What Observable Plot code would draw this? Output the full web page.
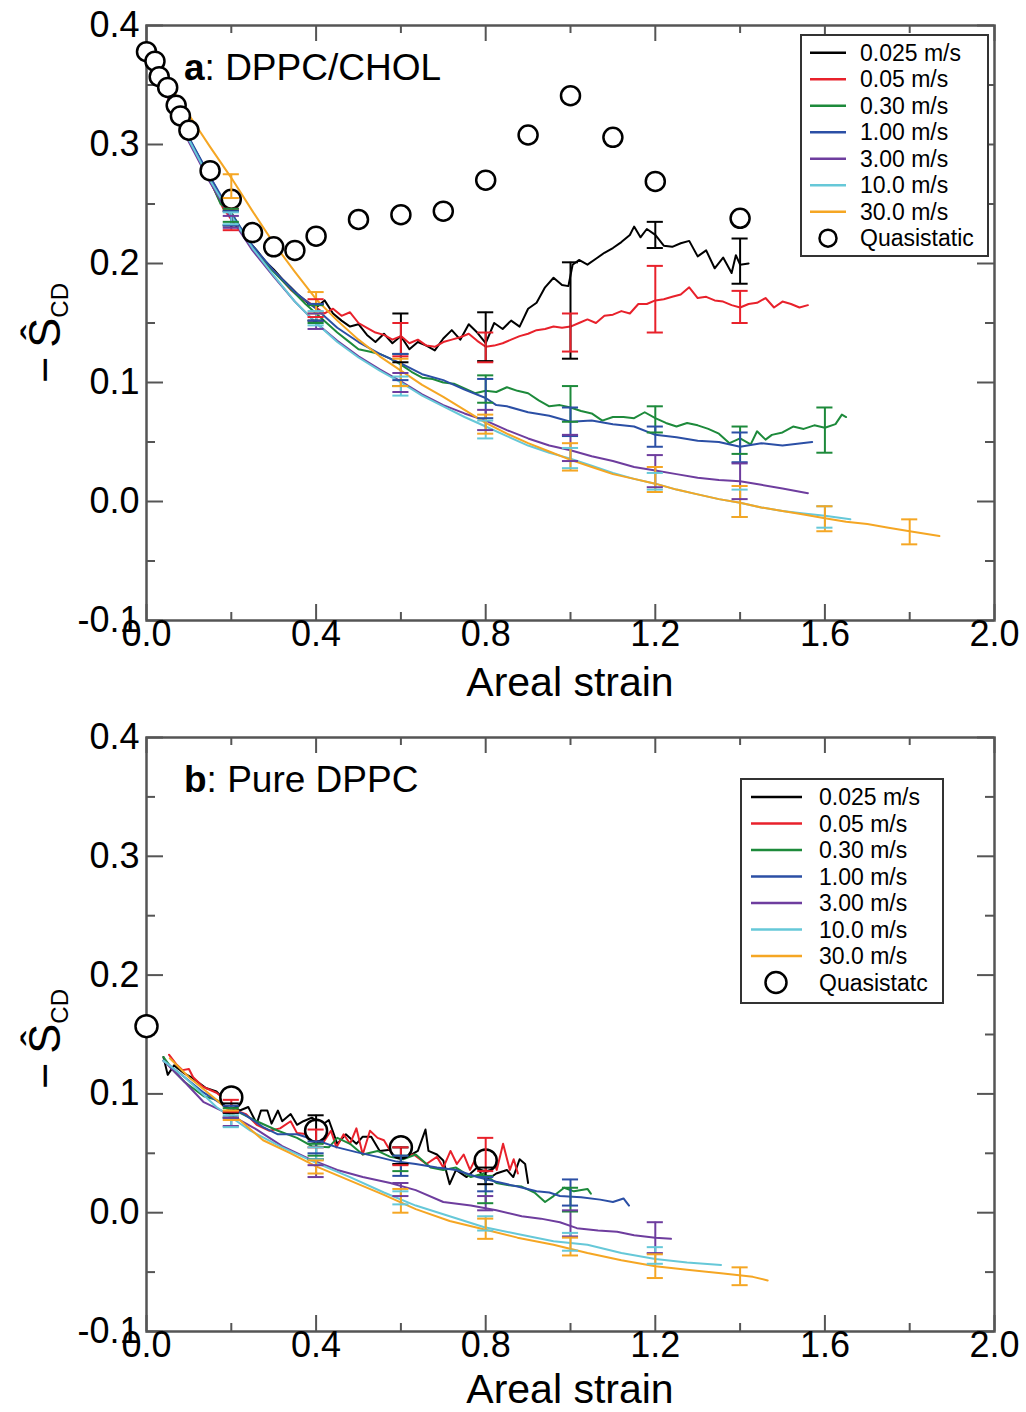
<!DOCTYPE html>
<html>
<head>
<meta charset="utf-8">
<script src="https://cdn.jsdelivr.net/npm/d3@7"></script>
<script src="https://cdn.jsdelivr.net/npm/@observablehq/plot@0.6"></script>
<style>
  html, body { margin: 0; padding: 0; background: #fff; }
  svg { display: block; }
  .panel { position: relative; width: 1026px; }
</style>
</head>
<body>
<div id="panelA" class="panel"></div>
<div id="panelB" class="panel"></div>
<script>
// ---------------- data ----------------
const speeds = ["0.025 m/s", "0.05 m/s", "0.30 m/s", "1.00 m/s", "3.00 m/s", "10.0 m/s", "30.0 m/s"];
const colors = ["#000000", "#e8212b", "#1d8a3b", "#2b4fa5", "#6e3d9e", "#66c8d8", "#f5a623"];
const xTicks = [0, 0.4, 0.8, 1.2, 1.6, 2.0];
const xTickLabels = ["0.0", "0.4", "0.8", "1.2", "1.6", "2.0"];
const xMinor = [0.2, 0.6, 1.0, 1.4, 1.8];
const yTicks = [-0.1, 0, 0.1, 0.2, 0.3, 0.4];
const yTickLabels = ["-0.1", "0.0", "0.1", "0.2", "0.3", "0.4"];
const yMinor = [-0.05, 0.05, 0.15, 0.25, 0.35];

// Panel a: DPPC/CHOL
const aBlack = [[0,0.372],[0.02,0.362],[0.04,0.350],[0.06,0.333],[0.08,0.318],[0.1,0.305],[0.12,0.292],[0.14,0.279],[0.16,0.266],[0.18,0.252],[0.2,0.240],[0.22,0.229],[0.24,0.219],[0.26,0.211],[0.28,0.202],[0.3,0.195],[0.32,0.187],[0.34,0.180],[0.36,0.173],[0.38,0.167],[0.4,0.163],[0.42,0.169],[0.44,0.158],[0.46,0.152],[0.48,0.147],[0.5,0.149],[0.52,0.140],[0.54,0.134],[0.56,0.141],[0.58,0.133],[0.6,0.139],[0.62,0.128],[0.64,0.134],[0.66,0.131],[0.68,0.127],[0.7,0.137],[0.72,0.144],[0.74,0.136],[0.76,0.149],[0.78,0.142],[0.8,0.133],[0.82,0.150],[0.84,0.145],[0.86,0.152],[0.88,0.147],[0.9,0.162],[0.92,0.167],[0.94,0.180],[0.96,0.188],[0.98,0.182],[0.995,0.181],[1.005,0.199],[1.02,0.203],[1.04,0.199],[1.06,0.204],[1.08,0.209],[1.1,0.213],[1.12,0.218],[1.14,0.224],[1.15,0.231],[1.165,0.222],[1.18,0.229],[1.2,0.224],[1.22,0.215],[1.24,0.214],[1.26,0.217],[1.28,0.219],[1.3,0.206],[1.32,0.211],[1.34,0.196],[1.36,0.205],[1.38,0.192],[1.39,0.207],[1.4,0.199],[1.42,0.200]];
const aRed = [[0,0.372],[0.02,0.361],[0.04,0.348],[0.06,0.331],[0.08,0.317],[0.1,0.303],[0.12,0.290],[0.14,0.277],[0.16,0.262],[0.18,0.247],[0.2,0.237],[0.22,0.228],[0.24,0.218],[0.26,0.209],[0.28,0.200],[0.3,0.194],[0.32,0.186],[0.34,0.178],[0.36,0.172],[0.38,0.168],[0.4,0.163],[0.42,0.158],[0.44,0.162],[0.46,0.156],[0.48,0.159],[0.5,0.150],[0.52,0.146],[0.54,0.142],[0.56,0.140],[0.58,0.136],[0.6,0.139],[0.62,0.133],[0.64,0.136],[0.66,0.131],[0.68,0.130],[0.7,0.134],[0.72,0.136],[0.74,0.138],[0.76,0.141],[0.78,0.135],[0.8,0.130],[0.82,0.131],[0.84,0.133],[0.86,0.136],[0.88,0.139],[0.9,0.141],[0.92,0.144],[0.94,0.145],[0.96,0.147],[0.98,0.146],[1.0,0.147],[1.02,0.150],[1.04,0.153],[1.06,0.150],[1.08,0.156],[1.1,0.157],[1.12,0.160],[1.14,0.158],[1.16,0.166],[1.18,0.166],[1.2,0.169],[1.22,0.170],[1.24,0.172],[1.26,0.174],[1.28,0.180],[1.3,0.171],[1.32,0.172],[1.34,0.169],[1.36,0.168],[1.38,0.165],[1.4,0.163],[1.42,0.166],[1.44,0.167],[1.46,0.171],[1.48,0.163],[1.5,0.168],[1.52,0.166],[1.54,0.163],[1.56,0.165]];
const aGreen = [[0,0.370],[0.025,0.357],[0.05,0.341],[0.075,0.322],[0.1,0.304],[0.125,0.288],[0.15,0.270],[0.175,0.250],[0.2,0.243],[0.225,0.228],[0.25,0.213],[0.275,0.202],[0.3,0.193],[0.325,0.184],[0.35,0.175],[0.375,0.166],[0.4,0.158],[0.425,0.150],[0.45,0.142],[0.475,0.135],[0.5,0.128],[0.525,0.126],[0.55,0.124],[0.575,0.120],[0.6,0.115],[0.625,0.109],[0.65,0.104],[0.675,0.103],[0.7,0.100],[0.725,0.099],[0.75,0.095],[0.775,0.091],[0.8,0.093],[0.825,0.092],[0.85,0.096],[0.875,0.093],[0.9,0.091],[0.925,0.085],[0.95,0.080],[0.975,0.081],[1.0,0.079],[1.025,0.076],[1.05,0.074],[1.075,0.068],[1.1,0.071],[1.125,0.071],[1.15,0.070],[1.175,0.075],[1.2,0.070],[1.225,0.066],[1.25,0.063],[1.275,0.066],[1.3,0.064],[1.325,0.061],[1.35,0.057],[1.375,0.049],[1.4,0.053],[1.425,0.048],[1.44,0.059],[1.46,0.052],[1.475,0.056],[1.5,0.058],[1.525,0.063],[1.55,0.061],[1.575,0.064],[1.6,0.062],[1.625,0.065],[1.64,0.073],[1.65,0.071]];
const aBlue = [[0,0.372],[0.05,0.343],[0.1,0.306],[0.15,0.273],[0.2,0.242],[0.25,0.215],[0.3,0.194],[0.35,0.176],[0.4,0.162],[0.45,0.146],[0.5,0.134],[0.55,0.124],[0.6,0.116],[0.65,0.107],[0.7,0.102],[0.75,0.094],[0.8,0.087],[0.825,0.081],[0.85,0.080],[0.9,0.075],[0.95,0.072],[1.0,0.067],[1.05,0.068],[1.1,0.065],[1.15,0.063],[1.2,0.056],[1.25,0.054],[1.3,0.051],[1.35,0.050],[1.4,0.046],[1.45,0.049],[1.5,0.047],[1.57,0.050]];
const aPurple = [[0,0.370],[0.05,0.340],[0.1,0.302],[0.15,0.268],[0.2,0.238],[0.25,0.211],[0.3,0.189],[0.35,0.168],[0.4,0.150],[0.45,0.135],[0.5,0.122],[0.55,0.111],[0.6,0.101],[0.65,0.090],[0.7,0.081],[0.75,0.074],[0.8,0.068],[0.85,0.060],[0.9,0.053],[0.95,0.047],[1.0,0.043],[1.05,0.038],[1.1,0.034],[1.15,0.029],[1.2,0.026],[1.25,0.023],[1.3,0.020],[1.35,0.018],[1.4,0.017],[1.45,0.014],[1.5,0.011],[1.56,0.007]];
const aCyan = [[0,0.372],[0.05,0.342],[0.1,0.304],[0.15,0.270],[0.2,0.240],[0.25,0.213],[0.3,0.190],[0.35,0.168],[0.4,0.150],[0.45,0.134],[0.5,0.121],[0.55,0.110],[0.6,0.100],[0.65,0.089],[0.7,0.080],[0.75,0.071],[0.8,0.063],[0.85,0.055],[0.9,0.047],[0.95,0.041],[1.0,0.036],[1.05,0.030],[1.1,0.024],[1.15,0.019],[1.2,0.015],[1.25,0.010],[1.3,0.006],[1.35,0.002],[1.4,-0.001],[1.45,-0.005],[1.5,-0.008],[1.55,-0.010],[1.6,-0.012],[1.66,-0.015]];
const aOrange = [[0.02,0.368],[0.05,0.352],[0.1,0.325],[0.15,0.298],[0.2,0.272],[0.25,0.244],[0.3,0.217],[0.35,0.193],[0.4,0.170],[0.45,0.152],[0.5,0.136],[0.55,0.122],[0.6,0.110],[0.65,0.098],[0.7,0.088],[0.75,0.077],[0.8,0.066],[0.85,0.057],[0.9,0.049],[0.95,0.042],[1.0,0.035],[1.05,0.029],[1.1,0.023],[1.15,0.019],[1.2,0.015],[1.25,0.010],[1.3,0.006],[1.35,0.002],[1.4,-0.001],[1.45,-0.005],[1.5,-0.008],[1.55,-0.011],[1.6,-0.014],[1.65,-0.017],[1.7,-0.019],[1.75,-0.022],[1.8,-0.025],[1.87,-0.029]];
const aQuasi = [[0,0.378],[0.02,0.370],[0.03,0.357],[0.05,0.348],[0.07,0.333],[0.08,0.324],[0.1,0.312],[0.15,0.278],[0.2,0.254],[0.25,0.226],[0.3,0.214],[0.35,0.211],[0.4,0.223],[0.5,0.237],[0.6,0.241],[0.7,0.244],[0.8,0.270],[0.9,0.308],[1.0,0.341],[1.1,0.306],[1.2,0.269],[1.4,0.238]];
// error bars: [series index, x, low, high]
const aErr = [
  [0,0.2,0.232,0.244],[1,0.2,0.228,0.246],[2,0.2,0.235,0.246],[3,0.2,0.232,0.244],[4,0.2,0.230,0.240],[5,0.2,0.233,0.243],[6,0.2,0.255,0.275],
  [0,0.4,0.152,0.166],[1,0.4,0.155,0.170],[2,0.4,0.150,0.165],[3,0.4,0.152,0.166],[4,0.4,0.145,0.158],[5,0.4,0.148,0.160],[6,0.4,0.158,0.176],
  [0,0.6,0.117,0.158],[1,0.6,0.122,0.150],[2,0.6,0.097,0.124],[3,0.6,0.102,0.124],[4,0.6,0.092,0.108],[5,0.6,0.089,0.105],[6,0.6,0.097,0.120],
  [0,0.8,0.118,0.159],[1,0.8,0.117,0.142],[2,0.8,0.083,0.106],[3,0.8,0.070,0.103],[4,0.8,0.060,0.077],[5,0.8,0.053,0.068],[6,0.8,0.057,0.073],
  [0,1.0,0.120,0.201],[1,1.0,0.126,0.158],[2,1.0,0.067,0.097],[3,1.0,0.055,0.079],[4,1.0,0.034,0.056],[5,1.0,0.028,0.045],[6,1.0,0.026,0.049],
  [0,1.2,0.213,0.235],[1,1.2,0.142,0.198],[2,1.2,0.058,0.080],[3,1.2,0.046,0.063],[4,1.2,0.012,0.039],[5,1.2,0.010,0.024],[6,1.2,0.008,0.029],
  [0,1.4,0.183,0.221],[1,1.4,0.150,0.177],[2,1.4,0.040,0.063],[3,1.4,0.033,0.058],[4,1.4,0.002,0.032],[5,1.4,-0.013,0.010],[6,1.4,-0.013,0.013],
  [2,1.6,0.041,0.079],[5,1.6,-0.022,-0.004],[6,1.6,-0.025,-0.004],
  [6,1.8,-0.036,-0.015]
];

// Panel b: Pure DPPC
const bBlack = [[0.04,0.131],[0.05,0.116],[0.065,0.124],[0.09,0.117],[0.11,0.113],[0.14,0.105],[0.165,0.102],[0.2,0.089],[0.22,0.086],[0.24,0.089],[0.26,0.075],[0.27,0.086],[0.285,0.086],[0.295,0.075],[0.31,0.086],[0.32,0.077],[0.34,0.083],[0.355,0.074],[0.37,0.077],[0.39,0.080],[0.415,0.074],[0.43,0.078],[0.45,0.058],[0.47,0.066],[0.495,0.058],[0.51,0.064],[0.53,0.064],[0.55,0.052],[0.575,0.053],[0.595,0.058],[0.615,0.047],[0.64,0.052],[0.658,0.070],[0.665,0.052],[0.685,0.049],[0.7,0.044],[0.715,0.024],[0.73,0.036],[0.755,0.030],[0.78,0.038],[0.8,0.027],[0.825,0.033],[0.85,0.036],[0.865,0.030],[0.88,0.045],[0.893,0.041],[0.9,0.025]];
const bRed = [[0.053,0.133],[0.07,0.125],[0.085,0.120],[0.1,0.121],[0.11,0.114],[0.133,0.106],[0.165,0.101],[0.19,0.094],[0.21,0.086],[0.235,0.083],[0.26,0.074],[0.29,0.069],[0.315,0.071],[0.34,0.077],[0.355,0.067],[0.38,0.066],[0.4,0.062],[0.415,0.058],[0.435,0.069],[0.448,0.055],[0.465,0.066],[0.48,0.058],[0.495,0.071],[0.51,0.049],[0.527,0.069],[0.545,0.063],[0.56,0.061],[0.575,0.052],[0.605,0.047],[0.63,0.049],[0.66,0.041],[0.685,0.047],[0.7,0.038],[0.717,0.052],[0.732,0.041],[0.748,0.049],[0.763,0.036],[0.778,0.047],[0.795,0.038],[0.81,0.052],[0.826,0.036],[0.841,0.058],[0.857,0.036],[0.866,0.045],[0.876,0.033]];
const bGreen = [[0.04,0.131],[0.065,0.119],[0.09,0.110],[0.12,0.102],[0.135,0.098],[0.165,0.095],[0.21,0.086],[0.26,0.077],[0.31,0.069],[0.355,0.063],[0.39,0.056],[0.43,0.055],[0.45,0.063],[0.48,0.058],[0.51,0.049],[0.545,0.052],[0.575,0.047],[0.605,0.045],[0.635,0.049],[0.67,0.038],[0.7,0.036],[0.73,0.038],[0.765,0.030],[0.795,0.033],[0.825,0.025],[0.855,0.023],[0.885,0.022],[0.915,0.017],[0.94,0.009],[0.96,0.014],[0.985,0.021],[1.008,0.018],[1.04,0.020],[1.048,0.016]];
const bBlue = [[0.04,0.128],[0.09,0.114],[0.135,0.101],[0.18,0.091],[0.23,0.083],[0.275,0.072],[0.31,0.066],[0.355,0.066],[0.4,0.061],[0.45,0.055],[0.495,0.051],[0.545,0.047],[0.59,0.043],[0.635,0.041],[0.685,0.038],[0.73,0.036],[0.78,0.030],[0.825,0.026],[0.875,0.022],[0.92,0.018],[0.95,0.017],[0.975,0.014],[1.025,0.013],[1.07,0.011],[1.1,0.009],[1.125,0.012],[1.138,0.006]];
const bPurple = [[0.04,0.128],[0.09,0.110],[0.135,0.093],[0.2,0.082],[0.26,0.070],[0.32,0.056],[0.385,0.045],[0.45,0.036],[0.51,0.030],[0.575,0.025],[0.635,0.019],[0.7,0.009],[0.765,0.006],[0.825,0.002],[0.885,-0.003],[0.93,-0.005],[0.975,-0.008],[1.015,-0.013],[1.065,-0.015],[1.11,-0.016],[1.15,-0.019],[1.2,-0.021],[1.237,-0.022]];
const bCyan = [[0.04,0.128],[0.09,0.114],[0.165,0.089],[0.245,0.069],[0.32,0.055],[0.4,0.042],[0.48,0.030],[0.56,0.017],[0.635,0.006],[0.715,-0.003],[0.795,-0.012],[0.875,-0.018],[0.96,-0.024],[1.04,-0.027],[1.12,-0.034],[1.2,-0.039],[1.275,-0.042],[1.355,-0.044]];
const bOrange = [[0.055,0.130],[0.1,0.114],[0.165,0.095],[0.21,0.081],[0.275,0.061],[0.34,0.050],[0.4,0.039],[0.48,0.027],[0.56,0.015],[0.635,0.003],[0.715,-0.007],[0.795,-0.014],[0.875,-0.021],[0.96,-0.027],[1.04,-0.034],[1.12,-0.040],[1.2,-0.045],[1.275,-0.048],[1.355,-0.051],[1.43,-0.054],[1.465,-0.057]];
const bQuasi = [[0,0.157],[0.2,0.097],[0.4,0.069],[0.6,0.055],[0.8,0.044]];
const bErr = [
  [0,0.2,0.084,0.092],[1,0.2,0.085,0.095],[2,0.2,0.080,0.088],[3,0.2,0.080,0.090],[4,0.2,0.073,0.080],[5,0.2,0.072,0.082],[6,0.2,0.078,0.086],
  [0,0.4,0.045,0.082],[1,0.4,0.055,0.070],[2,0.4,0.048,0.058],[3,0.4,0.050,0.060],[4,0.4,0.030,0.040],[5,0.4,0.045,0.055],[6,0.4,0.033,0.044],
  [0,0.6,0.041,0.055],[1,0.6,0.040,0.055],[2,0.6,0.035,0.048],[3,0.6,0.031,0.048],[4,0.6,0.014,0.025],[5,0.6,0.007,0.018],[6,0.6,0.000,0.020],
  [0,0.8,0.024,0.038],[1,0.8,0.035,0.063],[2,0.8,0.008,0.031],[3,0.8,0.018,0.030],[4,0.8,0.002,0.014],[5,0.8,-0.015,-0.003],[6,0.8,-0.022,-0.005],
  [2,1.0,0.001,0.021],[3,1.0,0.006,0.028],[4,1.0,-0.020,0.002],[5,1.0,-0.032,-0.017],[6,1.0,-0.036,-0.021],
  [4,1.2,-0.034,-0.008],[5,1.2,-0.043,-0.029],[6,1.2,-0.055,-0.035],
  [6,1.4,-0.061,-0.046]
];

// ---------------- drawing ----------------
const FONT = "'Liberation Sans', Arial, Helvetica, sans-serif";

function drawPanel(el, cfg) {
  const {series, quasi, errs, height, mb, dotR, titleBold, titleRest, leg, yLabelStart, xTitleGap} = cfg;
  const W = 1026, mt = 25, ml = 146, mr = 32;
  const plotH = height - mt - mb;
  const plotW = W - ml - mr;
  const rows = series.flatMap((pts, i) => pts.map(([x, y]) => ({s: speeds[i], x, y})));
  const eb = errs.map(([i, x, lo, hi]) => ({s: speeds[i], x, lo, hi}));
  const q = quasi.map(([x, y]) => ({x, y}));
  const cap = 0.019;
  const ts = {stroke: "#555", strokeWidth: 2};
  const chart = Plot.plot({
    width: W, height,
    marginTop: mt, marginBottom: mb, marginLeft: ml, marginRight: mr,
    style: {fontFamily: FONT, background: "white", color: "black", overflow: "visible"},
    x: {domain: [0, 2], axis: null},
    y: {domain: [-0.1, 0.4], axis: null},
    color: {domain: speeds, range: colors},
    marks: [
      Plot.tickX(xTicks, {x: d => d, insetTop: plotH - 16, ...ts}),
      Plot.tickX(xTicks, {x: d => d, insetBottom: plotH - 16, ...ts}),
      Plot.tickX(xMinor, {x: d => d, insetTop: plotH - 8, ...ts}),
      Plot.tickX(xMinor, {x: d => d, insetBottom: plotH - 8, ...ts}),
      Plot.tickY(yTicks, {y: d => d, insetRight: plotW - 17, ...ts}),
      Plot.tickY(yTicks, {y: d => d, insetLeft: plotW - 17, ...ts}),
      Plot.tickY(yMinor, {y: d => d, insetRight: plotW - 9, ...ts}),
      Plot.tickY(yMinor, {y: d => d, insetLeft: plotW - 9, ...ts}),
      Plot.frame({stroke: "#555", strokeWidth: 2.5}),
      Plot.text(xTicks, {x: d => d, text: (d, i) => xTickLabels[i], frameAnchor: "bottom", dy: 25, fontSize: 36, fill: "black"}),
      Plot.text(yTicks, {y: d => d, text: (d, i) => yTickLabels[i], frameAnchor: "left", textAnchor: "end", dx: -7, fontSize: 36, fill: "black"}),
      Plot.line(rows, {x: "x", y: "y", z: "s", stroke: "s", strokeWidth: 2, strokeLinejoin: "round"}),
      Plot.dot(q, {x: "x", y: "y", r: dotR, stroke: "black", strokeWidth: 2.5, fill: "white"}),
      Plot.ruleX(eb, {x: "x", y1: "lo", y2: "hi", stroke: "s", strokeWidth: 2}),
      Plot.ruleY(eb, {y: "lo", x1: d => d.x - cap, x2: d => d.x + cap, stroke: "s", strokeWidth: 2}),
      Plot.ruleY(eb, {y: "hi", x1: d => d.x - cap, x2: d => d.x + cap, stroke: "s", strokeWidth: 2})
    ]
  });
  const svg = d3.select(chart);
  // x axis title
  svg.append("text").attr("x", ml + plotW / 2).attr("y", mt + plotH + xTitleGap)
    .attr("text-anchor", "middle").attr("font-size", 41).attr("fill", "black").text("Areal strain");
  // y axis title: − Ŝ_CD
  const yl = svg.append("text").attr("transform", `translate(60,${yLabelStart}) rotate(-90)`)
    .attr("text-anchor", "start").attr("font-size", 45).attr("fill", "black");
  yl.append("tspan").text("\u2212\u2009\u015C");
  yl.append("tspan").attr("font-size", 24).attr("dy", 8).text("CD");
  // panel title
  const tt = svg.append("text").attr("x", 184).attr("y", 80).attr("text-anchor", "start")
    .attr("font-size", 37).attr("fill", "black");
  tt.append("tspan").attr("font-weight", "bold").text(titleBold);
  tt.append("tspan").text(titleRest);
  // legend
  const g = svg.append("g").attr("font-size", 23).attr("fill", "black").attr("text-anchor", "start");
  g.append("rect").attr("x", leg.x).attr("y", leg.y).attr("width", leg.w).attr("height", leg.h)
    .attr("fill", "white").attr("stroke", "#333").attr("stroke-width", 2);
  speeds.forEach((s, i) => {
    const yc = leg.row0 + leg.gap * i;
    g.append("line").attr("x1", leg.lx0).attr("x2", leg.lx1).attr("y1", yc).attr("y2", yc)
      .attr("stroke", colors[i]).attr("stroke-width", 2.5);
    g.append("text").attr("x", leg.tx).attr("y", yc).attr("dy", "0.36em").attr("text-anchor", "start").text(s);
  });
  const yq = leg.row0 + leg.gap * speeds.length;
  g.append("circle").attr("cx", leg.cx).attr("cy", yq).attr("r", leg.cr)
    .attr("fill", "white").attr("stroke", "black").attr("stroke-width", 2.5);
  g.append("text").attr("x", leg.tx).attr("y", yq).attr("dy", "0.36em").attr("text-anchor", "start").text(leg.qLabel);
  el.appendChild(chart);
}

drawPanel(document.getElementById("panelA"), {
  series: [aBlack, aRed, aGreen, aBlue, aPurple, aCyan, aOrange],
  quasi: aQuasi, errs: aErr, height: 712, mb: 92, dotR: 9.5,
  titleBold: "a", titleRest: ": DPPC/CHOL", yLabelStart: 383, xTitleGap: 76,
  leg: {x: 801, y: 35, w: 187, h: 221, row0: 52.7, gap: 26.5, lx0: 810, lx1: 846, tx: 860, cx: 828, cr: 8.5, qLabel: "Quasistatic"}
});
drawPanel(document.getElementById("panelB"), {
  series: [bBlack, bRed, bGreen, bBlue, bPurple, bCyan, bOrange],
  quasi: bQuasi, errs: bErr, height: 700, mb: 81, dotR: 11,
  titleBold: "b", titleRest: ": Pure DPPC", yLabelStart: 377, xTitleGap: 72,
  leg: {x: 741, y: 67, w: 202, h: 224, row0: 85, gap: 26.5, lx0: 751, lx1: 802, tx: 819, cx: 776, cr: 10.5, qLabel: "Quasistatc"}
});
</script>
</body>
</html>
